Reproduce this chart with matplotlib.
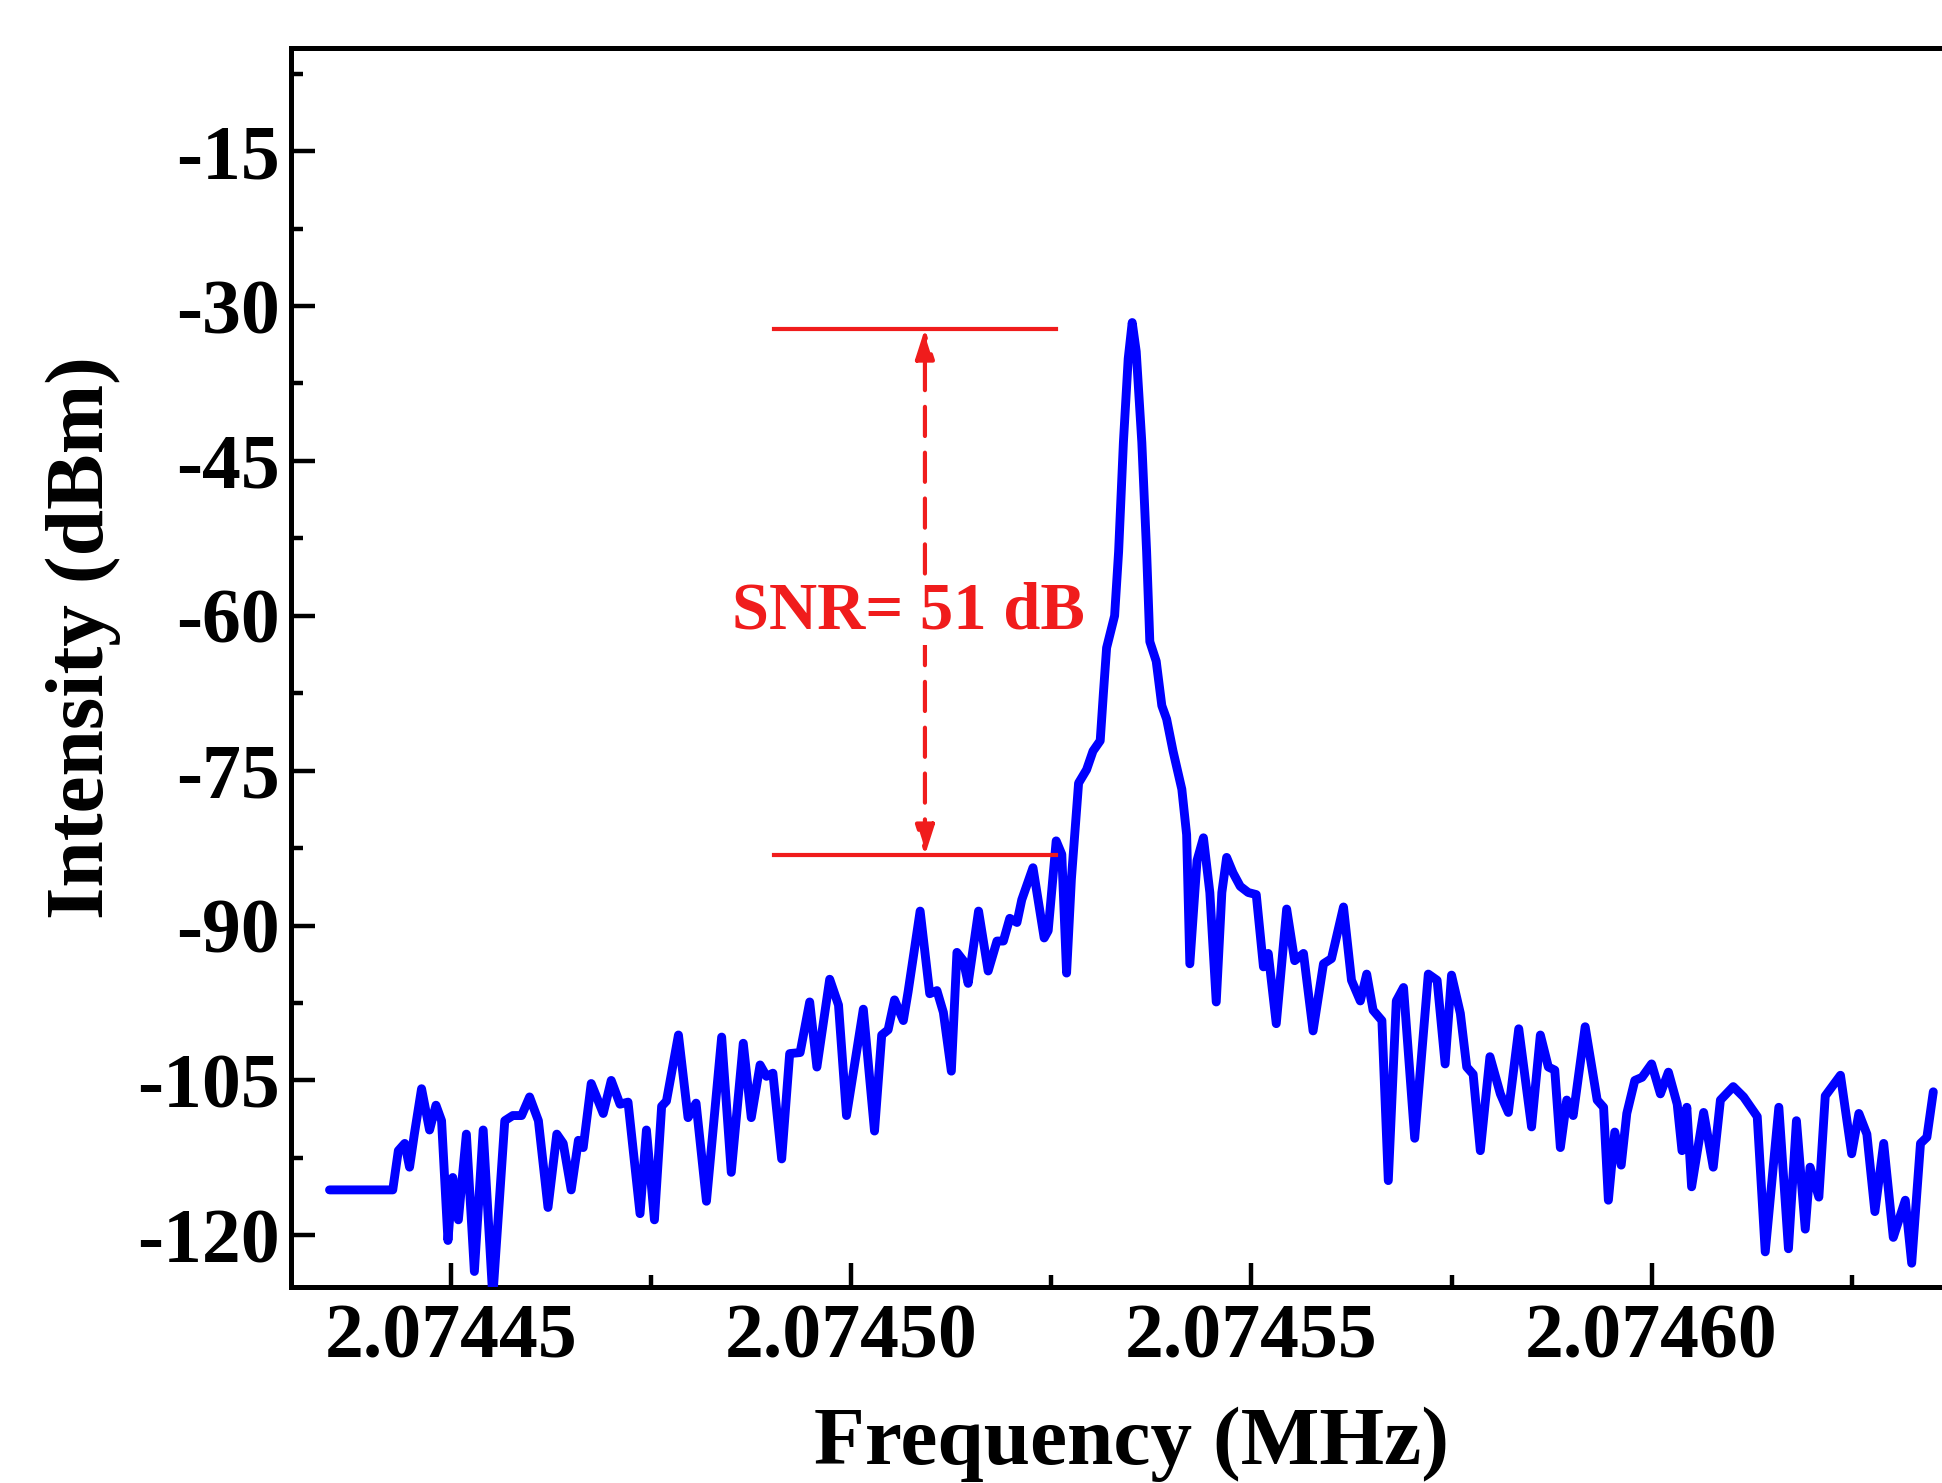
import matplotlib
matplotlib.use('Agg')
import matplotlib.pyplot as plt
from matplotlib.ticker import MultipleLocator, FuncFormatter
from matplotlib.patches import ArrowStyle

# spectrum around the beat note: frequency offset (Hz) above 2.0744 MHz and level (dBm)
base_mhz = 2.0744
freq_hz = [
    34.8, 42.7, 43.4, 44.2, 44.8, 45.4, 46.3, 47.3, 48.1, 48.8,
    49.6, 50.2, 50.9, 51.9, 52.9, 54.0, 55.2, 56.7, 57.7, 58.8,
    59.8, 60.9, 62.1, 63.2, 64.0, 65.0, 65.9, 66.5, 67.5, 69.0,
    70.0, 71.1, 72.1, 73.6, 74.4, 75.4, 76.3, 76.9, 78.4, 79.6,
    80.6, 81.9, 83.8, 85.0, 86.5, 87.5, 88.6, 89.4, 90.2, 91.3,
    92.3, 93.6, 94.8, 95.7, 97.3, 98.4, 99.4, 101.5, 102.9, 103.8,
    104.6, 105.4, 106.5, 107.1, 108.6, 109.8, 110.7, 111.5, 112.5, 113.2,
    114.0, 114.6, 115.9, 117.1, 118.2, 119.0, 119.8, 120.7, 121.3, 122.7,
    124.1, 124.6, 125.6, 126.3, 126.9, 127.5, 128.4, 129.4, 130.2, 131.1,
    131.5, 131.9, 132.9, 133.4, 134.0, 134.6, 135.1, 135.6, 136.3, 136.9,
    137.3, 138.1, 138.8, 139.4, 140.2, 141.3, 141.9, 142.3, 143.2, 144.0,
    144.8, 145.6, 146.3, 146.9, 147.7, 148.6, 149.6, 150.6, 151.5, 152.1,
    153.1, 154.4, 155.4, 156.5, 157.7, 159.0, 160.0, 161.5, 162.5, 163.6,
    164.4, 165.2, 166.3, 167.1, 168.1, 169.0, 170.4, 172.1, 173.2, 174.2,
    175.0, 176.1, 176.9, 177.7, 178.6, 179.8, 181.1, 182.1, 183.4, 185.0,
    186.1, 187.1, 187.9, 188.6, 189.4, 190.2, 191.7, 193.2, 194.0, 194.6,
    195.4, 196.2, 196.9, 197.9, 198.8, 200.0, 201.1, 202.1, 203.2, 203.8,
    204.4, 205.0, 206.5, 207.7, 208.6, 210.2, 211.5, 213.2, 214.2, 215.9,
    217.1, 218.1, 219.2, 219.8, 220.9, 221.7, 223.6, 225.0, 225.9, 226.9,
    227.9, 229.0, 230.2, 231.7, 232.5, 233.6, 234.4, 235.2,
]
intensity_dbm = [
    -115.6, -115.6, -111.8, -111.1, -113.4, -110.2, -105.8, -109.8, -107.4, -108.9,
    -120.5, -114.4, -118.5, -110.2, -123.5, -109.8, -126.0, -108.9, -108.4, -108.4,
    -106.6, -108.9, -117.3, -110.2, -111.1, -115.6, -110.8, -111.5, -105.3, -108.2,
    -105.0, -107.3, -107.1, -117.9, -109.8, -118.5, -107.5, -107.0, -100.6, -108.6,
    -107.2, -116.7, -100.8, -113.9, -101.4, -108.6, -103.5, -104.6, -104.3, -112.6,
    -102.4, -102.3, -97.4, -103.7, -95.2, -97.7, -108.4, -98.1, -109.9, -100.6,
    -100.1, -97.2, -99.2, -96.4, -88.6, -96.6, -96.3, -98.4, -104.1, -92.6,
    -93.4, -95.6, -88.6, -94.4, -91.5, -91.5, -89.3, -89.7, -87.5, -84.4,
    -91.2, -90.5, -81.8, -83.1, -94.6, -85.5, -76.2, -74.9, -73.1, -72.1,
    -67.5, -63.1, -60.0, -53.8, -43.2, -35.1, -31.6, -34.4, -43.2, -53.8,
    -62.5, -64.4, -68.7, -70.0, -73.1, -76.8, -81.2, -93.7, -83.7, -81.5,
    -86.8, -97.4, -86.8, -83.4, -84.9, -86.2, -86.8, -87.0, -94.0, -92.7,
    -99.5, -88.4, -93.4, -92.7, -100.2, -93.7, -93.2, -88.2, -95.3, -97.3,
    -94.7, -98.2, -99.2, -114.7, -97.3, -96.0, -110.6, -94.7, -95.3, -103.4,
    -94.8, -98.5, -103.7, -104.4, -111.8, -102.7, -106.3, -108.1, -100.0, -109.5,
    -100.6, -103.7, -104.0, -111.5, -106.9, -108.4, -99.8, -106.9, -107.6, -116.6,
    -110.0, -113.2, -108.2, -105.0, -104.7, -103.4, -106.3, -104.2, -107.3, -111.8,
    -107.6, -115.3, -108.1, -113.4, -106.9, -105.6, -106.6, -108.5, -121.6, -107.6,
    -121.3, -108.9, -119.4, -113.4, -116.3, -106.5, -104.5, -112.1, -108.2, -110.2,
    -117.7, -111.1, -120.2, -116.6, -122.7, -111.1, -110.5, -106.1,
]

# SNR marker: carrier level, noise floor, and the span of the guide lines (Hz offsets)
snr_db = 51
snr_top = -32.2
snr_floor = snr_top - snr_db
snr_span_hz = [90.3, 125.6]
snr_arrow_hz = 109.2
snr_text_hz = 107.1
snr_text_dbm = -59.6

x_major = [2.07445, 2.07450, 2.07455, 2.07460]
y_major = [-15, -30, -45, -60, -75, -90, -105, -120]

plt.rcParams['font.family'] = 'Liberation Serif'
plt.rcParams['font.weight'] = 'bold'
plt.rcParams['axes.unicode_minus'] = False

freq_mhz = [base_mhz + f * 1e-6 for f in freq_hz]
span_mhz = [base_mhz + f * 1e-6 for f in snr_span_hz]
arrow_mhz = base_mhz + snr_arrow_hz * 1e-6
text_mhz = base_mhz + snr_text_hz * 1e-6

fig = plt.figure(figsize=(19.42, 14.83), dpi=100)
ax = fig.add_axes([0.1499, 0.1322, 0.8654, 0.8355])

ax.plot(freq_mhz, intensity_dbm, color='#0000FF', lw=6.4,
        solid_joinstyle='round', solid_capstyle='round', zorder=3)

# guide lines and double arrow for the SNR
red = '#F01C1C'
ax.plot(span_mhz, [snr_top, snr_top], color=red, lw=3, zorder=4)
ax.plot(span_mhz, [snr_floor, snr_floor], color=red, lw=3, zorder=4)
ax.annotate('', xy=(arrow_mhz, snr_top), xytext=(arrow_mhz, snr_floor),
            arrowprops=dict(arrowstyle=ArrowStyle('<|-|>', head_length=0.5, head_width=0.16),
                            mutation_scale=36, color=red, lw=3, linestyle=(0, (7, 4)),
                            shrinkA=0, shrinkB=0), zorder=4)
ax.text(text_mhz, snr_text_dbm, f'SNR= {snr_db} dB', color=red, fontsize=48,
        fontweight='bold', ha='center', va='center', zorder=5,
        bbox=dict(facecolor='white', edgecolor='none', pad=2))

ax.set_xlim(2.07443, 2.07464)
ax.set_ylim(-125, -5)

ax.set_xticks(x_major)
ax.xaxis.set_minor_locator(MultipleLocator(0.000025))
ax.xaxis.set_major_formatter(FuncFormatter(lambda v, p: f'{v:.5f}'))
ax.set_yticks(y_major)
ax.yaxis.set_minor_locator(MultipleLocator(7.5))

ax.tick_params(which='both', direction='in', top=False, right=False, width=3.2)
ax.tick_params(which='major', length=17, labelsize=56)
ax.tick_params(which='minor', length=8.5)
ax.tick_params(axis='x', which='major', pad=12)
ax.tick_params(axis='y', which='major', pad=8)
for side in ax.spines.values():
    side.set_linewidth(3.6)

fig.text(0.5824, 0.0262, 'Frequency (MHz)', fontsize=60, fontweight='bold',
         ha='center', va='center')
fig.text(0.0427, 0.5698, 'Intensity (dBm)', fontsize=60, fontweight='bold',
         ha='center', va='center', rotation=90)

fig.savefig('out.png', dpi=100)
